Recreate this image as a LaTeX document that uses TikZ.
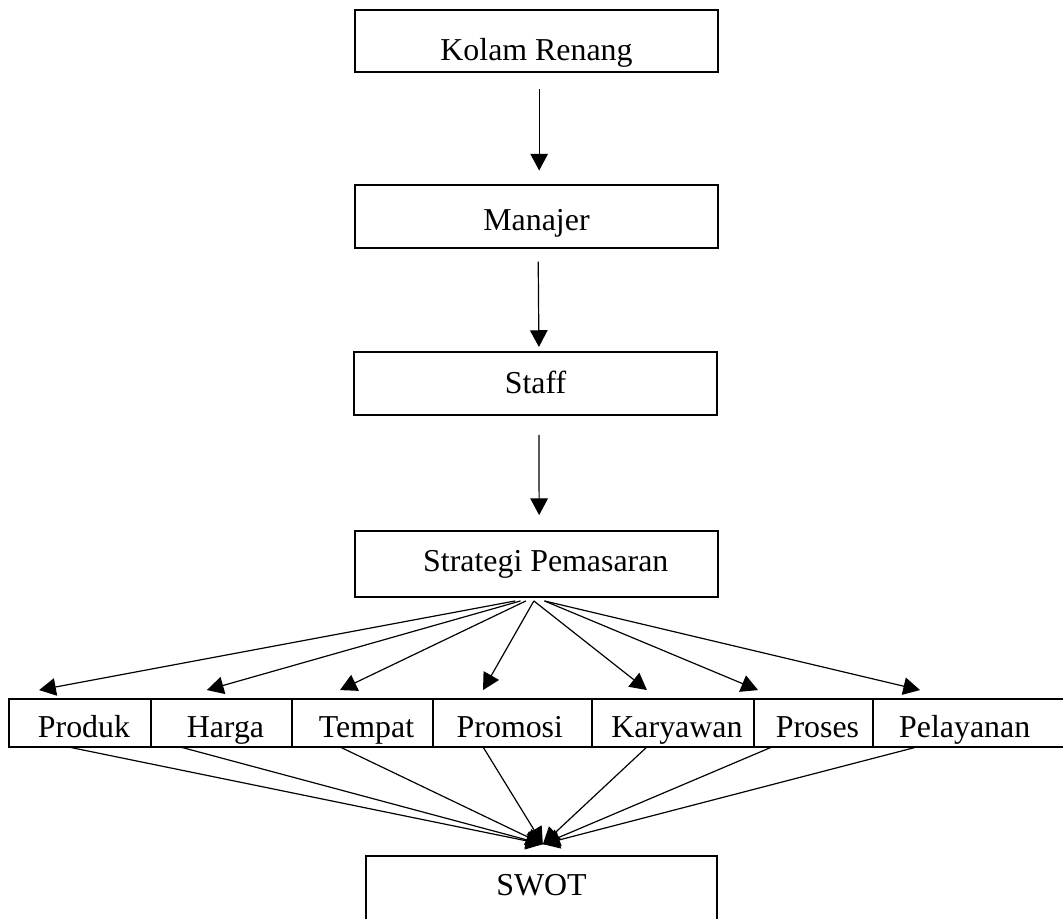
\documentclass[tikz,border=0pt]{standalone}
\usepackage{fontspec}
\setmainfont{Liberation Serif}
\usetikzlibrary{arrows.meta,positioning}

\begin{document}
\begin{tikzpicture}[x=0.01323cm, y=-0.01323cm,
    box/.style={draw, line width=0.8pt, inner sep=0pt, outer sep=0pt,
        minimum width=136.6pt, minimum height=23.4pt,
        font=\fontsize{12pt}{14pt}\selectfont, text depth=0pt},
    cell/.style={box, minimum height=18pt, text height=10.6pt},
    link/.style={-{Triangle[length=6.3pt,width=6.6pt]}, line width=0.45pt},
    spoke/.style={-{Triangle[length=6.3pt,width=6.6pt]}, line width=0.45pt}]
    \useasboundingbox (0,0) rectangle (1063,918);
    \clip (0,0) rectangle (1063,918);
    % Chain of boxes
    \node[box, text height=15pt] (kolam) at (536.5,41) {Kolam Renang};
    \node[box, text height=10.2pt] (manajer) at (536.5,216.5) {Manajer};
    \node[box, minimum height=23.7pt, text height=8pt, text depth=0.8pt] (staff) at (535.5,383.5) {Staff};
    \node[box, minimum height=24.8pt, text height=7pt, text depth=1pt] (strategi) at (536.5,564) {\hspace*{7pt}Strategi Pemasaran};
    \node[box, minimum width=132.1pt, minimum height=24pt, text height=6.5pt, text depth=1.2pt] (swot) at (541.5,888) {SWOT};
    % Row of marketing mix cells
    \node[cell, minimum width=53.4pt] (produk) at (80,723) {\hspace*{3pt}Produk};
    \node[cell, minimum width=53.1pt, right=0pt of produk] (harga) {\hspace*{3pt}Harga};
    \node[cell, minimum width=53.1pt, right=0pt of harga] (tempat) {\hspace*{3pt}Tempat};
    \node[cell, minimum width=59.8pt, right=0pt of tempat] (promosi) {Promosi\hspace*{2pt}};
    \node[cell, minimum width=61pt, right=0pt of promosi] (karyawan) {\hspace*{3pt}Karyawan};
    \node[cell, minimum width=44.8pt, right=0pt of karyawan] (proses) {\hspace*{3pt}Proses};
    \node[cell, minimum width=78pt, right=0pt of proses] (pelayanan) {Pelayanan\hspace*{9pt}};
    % Vertical arrows
    \draw[link, shorten <=6.4pt, shorten >=5.6pt] ([xshift=1pt]kolam.south) -- ([xshift=1pt]manajer.north);
    \draw[link, shorten <=5.3pt, shorten >=1.9pt] ([xshift=0.6pt]manajer.south) -- ([xshift=1.3pt]staff.north);
    \draw[link, shorten <=7.5pt, shorten >=6pt] ([xshift=1.3pt]staff.south) -- ([xshift=1pt]strategi.north);
    % Fan out to the cells
    \foreach \cellname/\sx/\dx in {produk/-8/-15.4, harga/-6/-5.5, tempat/-4/-8.5, promosi/-1/-11.1,
            karyawan/-1/-9.8, proses/3/-20.9, pelayanan/3/-21.3}
        \draw[spoke] ([xshift=\sx pt, yshift=-1.5pt]strategi.south) -- ([xshift=\dx pt, yshift=3.4pt]\cellname.north);
    % Fan in to SWOT
    \coordinate (sink) at ([xshift=0.5pt, yshift=4.5pt]swot.north);
    \foreach \cellname/\dx in {produk/-4.5, harga/-15.6, tempat/-8.5, promosi/-11.1,
            karyawan/-9.8, proses/-15.6, pelayanan/-22.4}
        \draw[spoke] ([xshift=\dx pt]\cellname.south) -- (sink);
\end{tikzpicture}
\end{document}
